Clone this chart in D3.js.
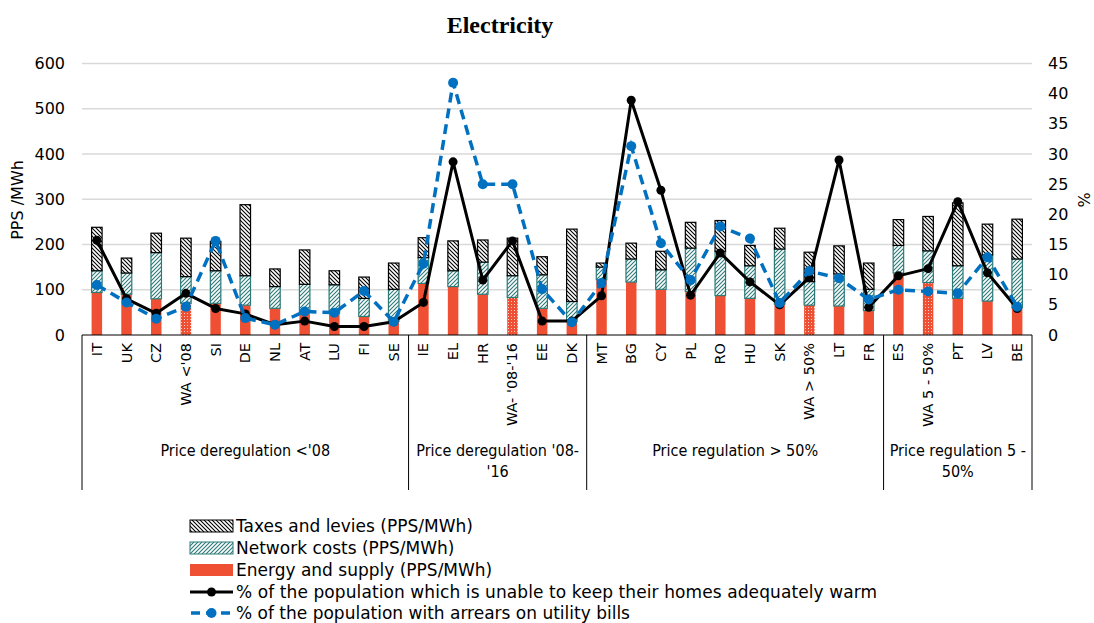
<!DOCTYPE html>
<html><head><meta charset="utf-8">
<script src="https://cdn.jsdelivr.net/npm/d3@7"></script>
<style>body{margin:0;background:#fff}svg{display:block}</style>
</head><body><svg id="c" width="1094" height="623"></svg>
<script>
const categories = ["IT","UK","CZ","WA <'08","SI","DE","NL","AT","LU","FI","SE","IE","EL","HR","WA- '08-'16","EE","DK","MT","BG","CY","PL","RO","HU","SK","WA > 50%","LT","FR","ES","WA 5 - 50%","PT","LV","BE"];
const weighted = ["WA <'08","WA- '08-'16","WA > 50%","WA 5 - 50%"];
const energy =  [94,90,80,70,70,66,59,52,48,41,30,114,107,90,83,59,30,122,117,101,96,87,81,68,66,64,54,137,116,81,75,60];
const network = [48,47,102,59,72,65,48,60,63,40,71,57,35,71,48,74,44,28,51,43,96,98,72,122,52,71,47,61,70,72,102,108];
const taxes =   [96,33,43,85,65,157,39,76,31,47,58,44,66,49,83,40,160,9,35,41,57,68,45,46,65,62,58,57,76,139,68,88];
const warm =    [15.7,6.0,3.6,6.9,4.4,3.5,1.7,2.3,1.4,1.4,2.2,5.4,28.7,9.1,15.6,2.3,2.3,6.5,38.9,24.0,6.6,13.6,8.8,5.0,9.5,29.0,4.6,9.8,11.0,22.1,10.3,4.4];
const arrears = [8.3,5.4,2.7,4.7,15.6,2.8,1.7,3.9,3.7,7.3,2.2,11.8,41.8,25.0,25.0,7.6,2.1,8.6,31.3,15.2,9.1,18.0,16.0,5.3,10.6,9.4,5.9,7.5,7.2,6.9,12.9,4.7];
const groups = [
  {name:["Price deregulation <'08"], start:0, end:11},
  {name:["Price deregulation '08-","'16"], start:11, end:17},
  {name:["Price regulation > 50%"], start:17, end:27},
  {name:["Price regulation 5 -","50%"], start:27, end:32}
];
const leftTicks = [0,100,200,300,400,500,600];
const rightTicks = [0,5,10,15,20,25,30,35,40,45];
const legendLabels = ["Taxes and levies (PPS/MWh)","Network costs (PPS/MWh)","Energy and supply (PPS/MWh)","% of the population which is unable to keep their homes adequately warm","% of the population with arrears on utility bills"];

const RED="#ef5033", TEAL="#2b7a78", BLUE="#0070c0";
const svg = d3.select("#c");
const defs = svg.append("defs");
function hatch(id, color, dir){
  const p = defs.append("pattern").attr("id",id).attr("patternUnits","userSpaceOnUse").attr("width",4).attr("height",4);
  p.append("rect").attr("width",4).attr("height",4).attr("fill","#fff");
  const d = dir==="back" ? "M0,0L4,4M-1,3L1,5M3,-1L5,1" : "M0,4L4,0M-1,1L1,-1M3,5L5,3";
  p.append("path").attr("d",d).attr("stroke",color).attr("stroke-width",1.1);
}
hatch("pTax","#000","back");
hatch("pNet",TEAL,"fwd");
const pd = defs.append("pattern").attr("id","pDot").attr("patternUnits","userSpaceOnUse").attr("width",3).attr("height",3);
pd.append("rect").attr("width",3).attr("height",3).attr("fill",RED);
pd.append("rect").attr("x",1).attr("y",1).attr("width",1).attr("height",1).attr("fill","#fbd0c8");

const x0=82, x1=1032, yTop=63.5, yBot=335;
const x = d3.scaleBand().domain(categories).range([x0,x1]).padding(0);
const yL = d3.scaleLinear().domain([0,600]).range([yBot,yTop]);
const yR = d3.scaleLinear().domain([0,45]).range([yBot,yTop]);
const bw = 10.5;

// title
svg.append("text").attr("x",500).attr("y",33).attr("text-anchor","middle")
  .attr("font-family","Liberation Serif, Times New Roman, serif").attr("font-weight","bold").attr("font-size",24).text("Electricity");

// gridlines
svg.append("g").selectAll("line").data(leftTicks.slice(1)).join("line")
  .attr("x1",x0).attr("x2",x1).attr("y1",d=>yL(d)).attr("y2",d=>yL(d))
  .attr("stroke","#d9d9d9").attr("stroke-width",1.5);

// axes
const gl = svg.append("g").attr("transform",`translate(${x0},0)`)
  .call(d3.axisLeft(yL).tickValues(leftTicks).tickSize(0).tickPadding(17));
gl.select(".domain").remove();
gl.selectAll("text").attr("font-family","DejaVu Sans, sans-serif").attr("font-size",16).attr("fill","#000");
const gr = svg.append("g").attr("transform",`translate(${x1},0)`)
  .call(d3.axisRight(yR).tickValues(rightTicks).tickSize(0).tickPadding(16));
gr.select(".domain").remove();
gr.selectAll("text").attr("font-family","DejaVu Sans, sans-serif").attr("font-size",16).attr("fill","#000");

svg.append("text").attr("transform","translate(23,200) rotate(-90)").attr("text-anchor","middle")
  .attr("font-family","DejaVu Sans, sans-serif").attr("font-size",16).text("PPS /MWh");
svg.append("text").attr("transform","translate(1090,200) rotate(-90)").attr("text-anchor","middle")
  .attr("font-family","DejaVu Sans, sans-serif").attr("font-size",16).text("%");

// bars
const rows = categories.map((c,i)=>({c, e:energy[i], n:network[i], t:taxes[i]}));
const bars = svg.append("g");
rows.forEach(r=>{
  const cx = x(r.c)+x.bandwidth()/2;
  const wa = weighted.includes(r.c);
  bars.append("rect").attr("x",cx-bw/2).attr("width",bw).attr("y",yL(r.e)).attr("height",yL(0)-yL(r.e))
    .attr("fill", wa ? "url(#pDot)" : RED);
  bars.append("rect").attr("x",cx-bw/2).attr("width",bw).attr("y",yL(r.e+r.n)).attr("height",yL(r.e)-yL(r.e+r.n))
    .attr("fill","url(#pNet)").attr("stroke",TEAL).attr("stroke-width",1.2);
  bars.append("rect").attr("x",cx-bw/2).attr("width",bw).attr("y",yL(r.e+r.n+r.t)).attr("height",yL(r.e+r.n)-yL(r.e+r.n+r.t))
    .attr("fill","url(#pTax)").attr("stroke","#000").attr("stroke-width",1.2);
});

// lines
const cxf = (d,i)=>x(categories[i])+x.bandwidth()/2;
const line = yS => d3.line().x(cxf).y(d=>yS(d));
svg.append("path").datum(warm).attr("d",line(yR)).attr("fill","none").attr("stroke","#000").attr("stroke-width",3).attr("stroke-linejoin","round");
svg.append("g").selectAll("circle").data(warm).join("circle").attr("cx",cxf).attr("cy",d=>yR(d)).attr("r",4.5).attr("fill","#000");
svg.append("path").datum(arrears).attr("d",line(yR)).attr("fill","none").attr("stroke",BLUE).attr("stroke-width",3.5).attr("stroke-dasharray","10,6");
svg.append("g").selectAll("circle").data(arrears).join("circle").attr("cx",cxf).attr("cy",d=>yR(d)).attr("r",5).attr("fill",BLUE);

// x axis box
const ax = svg.append("g");
ax.append("line").attr("x1",x0).attr("x2",x1).attr("y1",yBot).attr("y2",yBot).attr("stroke","#000").attr("stroke-width",1);
const bounds = [0].concat(groups.map(g=>g.end));
ax.selectAll("line.v").data(bounds).join("line").attr("class","v")
  .attr("x1",i=>x0+i*x.bandwidth()).attr("x2",i=>x0+i*x.bandwidth()).attr("y1",yBot).attr("y2",490)
  .attr("stroke","#000").attr("stroke-width",1);
ax.selectAll("text.cat").data(categories).join("text").attr("class","cat")
  .attr("transform",d=>`translate(${x(d)+x.bandwidth()/2+5},${yBot+8}) rotate(-90)`)
  .attr("text-anchor","end").attr("font-family","DejaVu Sans, sans-serif").attr("font-size",14.5).text(d=>d);
groups.forEach(g=>{
  const cx = x0 + (g.start+g.end)/2*x.bandwidth();
  g.name.forEach((s,k)=>{
    ax.append("text").attr("x",cx).attr("y",456+k*21).attr("text-anchor","middle")
      .attr("font-family","DejaVu Sans Condensed, DejaVu Sans, sans-serif").attr("font-size",16).text(s);
  });
});

// legend
const lg = svg.append("g");
const ly = [526,548,570,592,613];
const sx = 190, sw = 43;
lg.append("rect").attr("x",sx).attr("y",ly[0]-6).attr("width",sw).attr("height",12).attr("fill","url(#pTax)").attr("stroke","#000").attr("stroke-width",1);
lg.append("rect").attr("x",sx).attr("y",ly[1]-6).attr("width",sw).attr("height",12).attr("fill","url(#pNet)").attr("stroke",TEAL).attr("stroke-width",1);
lg.append("rect").attr("x",sx).attr("y",ly[2]-6).attr("width",sw).attr("height",12).attr("fill",RED);
lg.append("line").attr("x1",sx).attr("x2",sx+sw).attr("y1",ly[3]).attr("y2",ly[3]).attr("stroke","#000").attr("stroke-width",3);
lg.append("circle").attr("cx",sx+sw/2).attr("cy",ly[3]).attr("r",4.5).attr("fill","#000");
lg.append("line").attr("x1",sx).attr("x2",sx+sw).attr("y1",ly[4]).attr("y2",ly[4]).attr("stroke",BLUE).attr("stroke-width",3.5).attr("stroke-dasharray","9,6").attr("stroke-dashoffset",-1);
lg.append("circle").attr("cx",sx+sw/2).attr("cy",ly[4]).attr("r",5).attr("fill",BLUE);
lg.selectAll("text").data(legendLabels).join("text").attr("x",sx+sw+3).attr("y",(d,i)=>ly[i]).attr("dy","0.35em")
  .attr("font-family","DejaVu Sans, sans-serif").attr("font-size",17).attr("textLength",(d,i)=>i===3?641:null).text(d=>d);
</script></body></html>
